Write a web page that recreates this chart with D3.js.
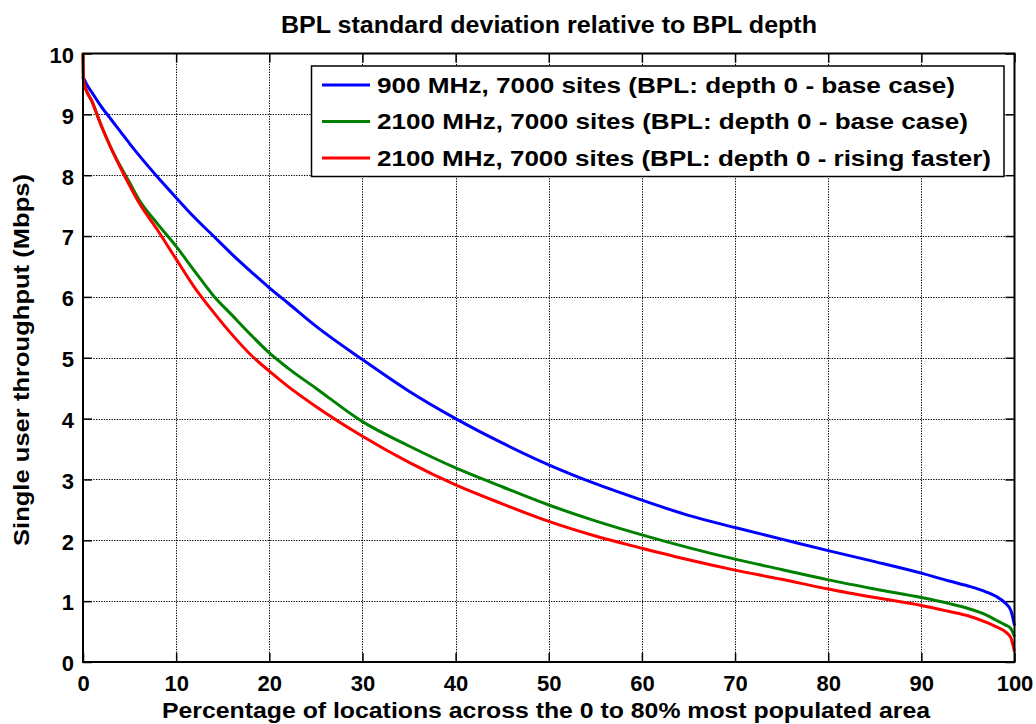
<!DOCTYPE html>
<html>
<head>
<meta charset="utf-8">
<script src="https://cdn.jsdelivr.net/npm/d3@7"></script>
<style>
  html, body { margin: 0; padding: 0; background: #fff; }
  svg { display: block; }
  text { font-family: "Liberation Sans", Arial, sans-serif; font-weight: bold; fill: #000; }
</style>
</head>
<body>
<svg id="chart" width="1036" height="724"></svg>
<script>
// ---- data ----
const chartTitle = "BPL standard deviation relative to BPL depth";
const xLabel = "Percentage of locations across the 0 to 80% most populated area";
const yLabel = "Single user throughput (Mbps)";
const xTicks = [0, 10, 20, 30, 40, 50, 60, 70, 80, 90, 100];
const yTicks = [0, 1, 2, 3, 4, 5, 6, 7, 8, 9, 10];
const seriesNames = [
  "900 MHz, 7000 sites (BPL: depth 0 - base case)",
  "2100 MHz, 7000 sites (BPL: depth 0 - base case)",
  "2100 MHz, 7000 sites (BPL: depth 0 - rising faster)"
];
const seriesColors = ["#0000ff", "#008000", "#ff0000"];
const xValues = [0, 0.05, 1, 2, 3, 4, 5, 6, 8, 10, 12, 14, 16, 18, 20, 22, 25, 30, 35, 40, 45, 50, 55, 60, 65, 70, 75, 80, 85, 90, 93, 95, 97, 98, 99, 99.6, 100];
const blue900 = [9.62, 9.6, 9.35, 9.12, 8.92, 8.72, 8.52, 8.33, 7.97, 7.63, 7.3, 7.0, 6.7, 6.42, 6.15, 5.9, 5.52, 4.97, 4.45, 4.0, 3.6, 3.24, 2.93, 2.66, 2.41, 2.21, 2.02, 1.83, 1.65, 1.46, 1.33, 1.25, 1.15, 1.08, 0.97, 0.85, 0.6];
const green2100 = [10, 9.55, 9.2, 8.8, 8.45, 8.15, 7.88, 7.6, 7.2, 6.83, 6.42, 6.02, 5.7, 5.38, 5.08, 4.83, 4.5, 3.95, 3.55, 3.19, 2.88, 2.58, 2.32, 2.09, 1.88, 1.69, 1.52, 1.35, 1.2, 1.06, 0.96, 0.88, 0.77, 0.69, 0.61, 0.55, 0.42];
const red2100 = [10, 9.55, 9.2, 8.8, 8.45, 8.13, 7.83, 7.55, 7.1, 6.62, 6.15, 5.75, 5.38, 5.05, 4.78, 4.53, 4.2, 3.71, 3.28, 2.91, 2.6, 2.31, 2.07, 1.87, 1.68, 1.51, 1.36, 1.2, 1.06, 0.93, 0.83, 0.76, 0.65, 0.58, 0.5, 0.4, 0.17];
const seriesValues = [blue900, green2100, red2100];

// ---- layout ----
const L = 83, R = 1014.5, T = 53.5, B = 662;
const svg = d3.select("#chart");
const x = d3.scaleLinear().domain([0, 100]).range([L, R]);
const y = d3.scaleLinear().domain([0, 10]).range([B, T]);

// grid
const grid = svg.append("g").attr("stroke", "#000").attr("stroke-width", 1).attr("stroke-dasharray", "1.3,1.3");
grid.selectAll(".gx").data(xTicks.slice(1, -1)).join("line")
  .attr("x1", d => Math.round(x(d)) + 0.5).attr("x2", d => Math.round(x(d)) + 0.5)
  .attr("y1", T).attr("y2", B);
grid.selectAll(".gy").data(yTicks.slice(1, -1)).join("line")
  .attr("y1", d => Math.round(y(d)) + 0.5).attr("y2", d => Math.round(y(d)) + 0.5)
  .attr("x1", L).attr("x2", R);

// axes
const fs = 22;
const xAxis = svg.append("g").attr("transform", `translate(0,${B})`)
  .call(d3.axisBottom(x).tickValues(xTicks).tickSize(-9).tickPadding(13).tickFormat(d3.format("d")));
const xAxisTop = svg.append("g").attr("transform", `translate(0,${T})`)
  .call(d3.axisTop(x).tickValues(xTicks).tickSize(-9).tickFormat(""));
const yAxis = svg.append("g").attr("transform", `translate(${L},0)`)
  .call(d3.axisLeft(y).tickValues(yTicks).tickSize(-9).tickPadding(9).tickFormat(d3.format("d")));
const yAxisR = svg.append("g").attr("transform", `translate(${R},0)`)
  .call(d3.axisRight(y).tickValues(yTicks).tickSize(-9).tickFormat(""));
[xAxis, xAxisTop, yAxis, yAxisR].forEach(g => {
  g.select(".domain").remove();
  g.selectAll(".tick line").attr("stroke", "#000").attr("stroke-width", 1.5);
  g.selectAll("text").attr("font-size", fs).attr("font-family", null).attr("fill", "#000");
});
yAxis.selectAll("text").attr("dy", "0.4em");

// lines
const line = d3.line().x((d, i) => x(xValues[i])).y(d => y(d)).curve(d3.curveMonotoneX);
svg.append("g").selectAll("path").data(seriesValues).join("path")
  .attr("d", d => line(d))
  .attr("fill", "none")
  .attr("stroke", (d, i) => seriesColors[i])
  .attr("stroke-width", 3)
  .attr("stroke-linejoin", "round");

// frame
svg.append("rect").attr("x", L).attr("y", T).attr("width", R - L).attr("height", B - T)
  .attr("fill", "none").attr("stroke", "#000").attr("stroke-width", 2);

// title
svg.append("text").attr("x", 549).attr("y", 33).attr("text-anchor", "middle")
  .attr("font-size", 23).attr("textLength", 536).attr("lengthAdjust", "spacingAndGlyphs")
  .text(chartTitle);

// x label
svg.append("text").attr("x", 546).attr("y", 718).attr("text-anchor", "middle")
  .attr("font-size", fs).attr("textLength", 768).attr("lengthAdjust", "spacingAndGlyphs")
  .text(xLabel);

// y label
svg.append("text").attr("transform", "translate(29,360) rotate(-90)").attr("text-anchor", "middle")
  .attr("font-size", fs).attr("textLength", 372).attr("lengthAdjust", "spacingAndGlyphs")
  .text(yLabel);

// legend
const legendTextWidths = [578, 591, 614];
const lg = svg.append("g");
lg.append("rect").attr("x", 311.5).attr("y", 66).attr("width", 692.5).attr("height", 110.5)
  .attr("fill", "#fff").attr("stroke", "#000").attr("stroke-width", 1.5);
const rowY = [85, 121.5, 158];
seriesNames.forEach((name, i) => {
  lg.append("line").attr("x1", 322).attr("x2", 370).attr("y1", rowY[i]).attr("y2", rowY[i])
    .attr("stroke", seriesColors[i]).attr("stroke-width", 3);
  lg.append("text").attr("x", 377).attr("y", rowY[i] + 7.5)
    .attr("font-size", fs).attr("textLength", legendTextWidths[i]).attr("lengthAdjust", "spacingAndGlyphs")
    .text(name);
});
</script>
</body>
</html>
